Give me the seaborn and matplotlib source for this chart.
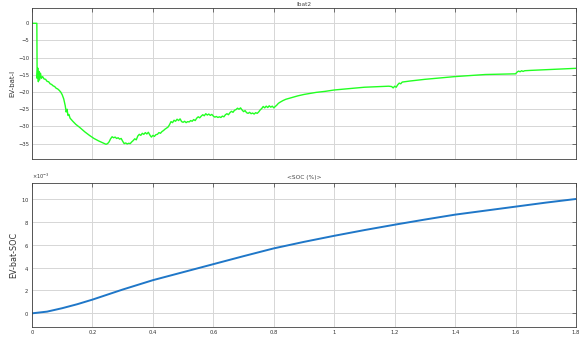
import numpy as np
import pandas as pd
import matplotlib
matplotlib.use("Agg")
import matplotlib.pyplot as plt
import matplotlib.ticker as mticker
import seaborn as sns

# Battery current trace (time, A)
t_current = [
    0.0, 0.016, 0.017, 0.019, 0.021, 0.023, 0.025, 0.028, 0.031, 0.035,
    0.04, 0.045, 0.05, 0.055, 0.06, 0.065, 0.07, 0.075, 0.08, 0.085,
    0.09, 0.095, 0.1, 0.105, 0.11, 0.113, 0.116, 0.119, 0.122, 0.126,
    0.135, 0.145, 0.158, 0.175, 0.19, 0.205, 0.22, 0.235, 0.245, 0.25,
    0.255, 0.26, 0.265, 0.27, 0.275, 0.28, 0.285, 0.29, 0.295, 0.3,
    0.305, 0.31, 0.315, 0.32, 0.325, 0.33, 0.335, 0.34, 0.345, 0.35,
    0.355, 0.36, 0.365, 0.37, 0.375, 0.38, 0.385, 0.39, 0.395, 0.4,
    0.405, 0.41, 0.415, 0.42, 0.425, 0.43, 0.435, 0.44, 0.445, 0.45,
    0.455, 0.46, 0.465, 0.47, 0.475, 0.48, 0.485, 0.49, 0.495, 0.5,
    0.505, 0.51, 0.515, 0.52, 0.525, 0.53, 0.535, 0.54, 0.545, 0.55,
    0.555, 0.56, 0.565, 0.57, 0.575, 0.58, 0.585, 0.59, 0.595, 0.6,
    0.605, 0.61, 0.615, 0.62, 0.625, 0.63, 0.635, 0.64, 0.645, 0.65,
    0.655, 0.66, 0.665, 0.67, 0.675, 0.68, 0.685, 0.69, 0.695, 0.7,
    0.705, 0.71, 0.715, 0.72, 0.725, 0.73, 0.735, 0.74, 0.745, 0.75,
    0.755, 0.76, 0.765, 0.77, 0.775, 0.78, 0.785, 0.79, 0.795, 0.8,
    0.805, 0.81, 0.815, 0.82, 0.83, 0.84, 0.86, 0.88, 0.9, 0.92,
    0.94, 0.97, 1.0, 1.05, 1.1, 1.15, 1.18, 1.19, 1.195, 1.2,
    1.205, 1.21, 1.215, 1.22, 1.225, 1.25, 1.3, 1.35, 1.4, 1.45,
    1.5, 1.55, 1.59, 1.6, 1.605, 1.61, 1.615, 1.62, 1.625, 1.63,
    1.65, 1.7, 1.75, 1.8,
]
i_bat = [
    0.0, 0.0, -16.0, -13.0, -17.0, -14.0, -16.5, -14.5, -16.0, -15.5,
    -16.2, -16.3, -16.9, -17.0, -17.6, -17.8, -18.2, -18.4, -18.9, -19.1,
    -19.5, -20.0, -20.8, -22.0, -24.0, -25.8, -25.0, -26.8, -26.5, -27.6,
    -28.5, -29.4, -30.3, -31.6, -32.6, -33.5, -34.2, -34.8, -35.2, -35.0,
    -34.5, -33.6, -33.0, -33.3, -33.1, -33.5, -33.3, -33.7, -33.5, -34.3,
    -35.0, -34.8, -35.1, -34.9, -35.0, -34.5, -34.1, -33.6, -33.9, -32.8,
    -32.3, -32.6, -32.0, -32.3, -31.8, -32.2, -31.7, -32.5, -33.1, -32.6,
    -32.9, -32.4, -32.3, -31.8, -32.0, -31.5, -31.2, -30.8, -30.5, -30.2,
    -29.5, -28.6, -28.9, -28.2, -28.5, -27.9, -28.3, -27.8, -28.6, -28.8,
    -28.5, -28.9, -28.6, -28.7, -28.3, -28.5, -28.0, -28.3, -27.6, -27.2,
    -27.5, -27.0, -26.6, -26.9, -26.3, -26.7, -26.4, -26.8, -26.5, -27.0,
    -27.3, -27.1, -27.4, -27.2, -27.4, -27.0, -27.2, -26.6, -26.3, -26.6,
    -26.0, -25.6, -25.9, -25.3, -25.1, -24.7, -25.0, -24.6, -25.2, -25.7,
    -25.4, -26.0, -26.2, -25.9, -26.3, -26.1, -26.4, -26.0, -26.2, -25.8,
    -25.2, -24.8, -24.2, -24.6, -24.1, -24.5, -24.0, -24.4, -24.1, -24.6,
    -24.2, -23.8, -23.3, -23.0, -22.5, -22.1, -21.6, -21.1, -20.7, -20.4,
    -20.1, -19.8, -19.4, -19.0, -18.6, -18.4, -18.3, -18.4, -18.8, -18.3,
    -18.6, -17.9, -17.4, -17.6, -17.1, -16.8, -16.3, -15.9, -15.5, -15.2,
    -14.9, -14.8, -14.7, -14.7, -14.2, -13.9, -14.1, -13.8, -14.0, -13.8,
    -13.7, -13.5, -13.3, -13.1,
]

# State of charge trace (time, fraction)
t_soc = [0.0, 0.05, 0.1, 0.15, 0.2, 0.3, 0.4, 0.5, 0.6, 0.7, 0.8,
         0.9, 1.0, 1.1, 1.2, 1.3, 1.4, 1.5, 1.6, 1.7, 1.8]
soc = [0.0, 0.00015, 0.00045, 0.0008, 0.0012, 0.00208, 0.0029, 0.0036,
       0.0043, 0.0050, 0.00568, 0.00625, 0.00678, 0.00728, 0.00775,
       0.0082, 0.00863, 0.00898, 0.00933, 0.00968, 0.0100]

top_title = "Ibat2"
bottom_title = "<SOC (%)>"
top_ylabel = "EV-bat-I"
bottom_ylabel = "EV-bat-SOC"
x_ticks = [0, 0.2, 0.4, 0.6, 0.8, 1.0, 1.2, 1.4, 1.6, 1.8]
x_ticklabels = ["0", "0.2", "0.4", "0.6", "0.8", "1", "1.2", "1.4", "1.6", "1.8"]
top_yticks = [0, -5, -10, -15, -20, -25, -30, -35]
bottom_yticks = [0, 0.002, 0.004, 0.006, 0.008, 0.010]

sns.set_style("white")
plt.rcParams["font.family"] = ["DejaVu Sans"]

df_i = pd.DataFrame({"t": t_current, "I": i_bat})
df_s = pd.DataFrame({"t": t_soc, "SOC": soc})

fig = plt.figure(figsize=(5.84, 3.43), dpi=100)
ax1 = fig.add_axes([0.0548, 0.5356, 0.9315, 0.4402])
ax2 = fig.add_axes([0.0548, 0.0458, 0.9315, 0.4198])

sns.lineplot(data=df_i, x="t", y="I", ax=ax1, color="#22ff22", linewidth=1.0,
             sort=False, estimator=None)
sns.lineplot(data=df_s, x="t", y="SOC", ax=ax2, color="#1f77c8", linewidth=1.4,
             sort=False, estimator=None)

grid_color = "#d6d6d6"
spine_color = "#404040"
for ax in (ax1, ax2):
    ax.set_xlim(0, 1.8)
    ax.set_xticks(x_ticks)
    ax.grid(True, color=grid_color, linewidth=0.7)
    ax.set_axisbelow(True)
    for s in ax.spines.values():
        s.set_color(spine_color)
        s.set_linewidth(0.6)
        s.set_visible(True)
    ax.tick_params(direction="in", length=3, width=0.5, color=spine_color,
                   top=True, right=True, labelsize=3.8, labelcolor="#333333",
                   pad=2)
    ax.set_xlabel("")

ax1.set_ylim(-39.56, 4.36)
ax1.set_yticks(top_yticks)
ax1.set_xticklabels([])
ax1.set_ylabel(top_ylabel, fontsize=5.0, color="#333333", labelpad=2)
ax1.set_title(top_title, fontsize=4.2, color="#444444", pad=1.5)

ax2.set_ylim(-0.00122, 0.01137)
ax2.set_yticks(bottom_yticks)
fmt = mticker.ScalarFormatter(useMathText=True)
fmt.set_powerlimits((-3, -3))
ax2.yaxis.set_major_formatter(fmt)
ax2.yaxis.get_offset_text().set_fontsize(3.6)
ax2.yaxis.get_offset_text().set_color("#333333")
ax2.set_xticklabels(x_ticklabels)
ax2.set_ylabel(bottom_ylabel, fontsize=5.8, color="#333333", labelpad=2)
ax2.set_title(bottom_title, fontsize=4.2, color="#444444", pad=3)

fig.savefig("out.png", dpi=100, facecolor="white")
